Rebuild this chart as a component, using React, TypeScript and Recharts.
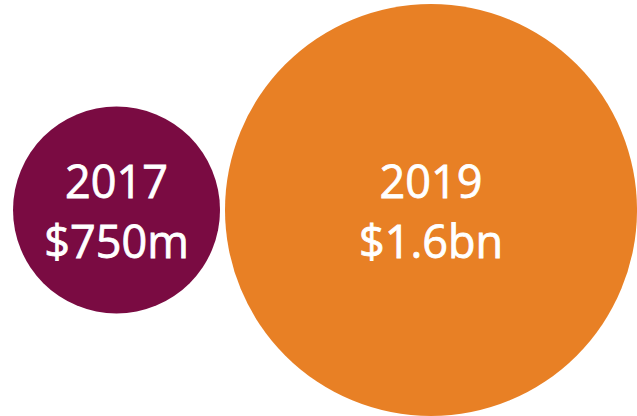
import React from "react";
import { ScatterChart, Scatter, XAxis, YAxis, ZAxis, Cell } from "recharts";

const years = [2017, 2019];
const amounts = [750, 1600]; // $m
const amountLabels = ["$750m", "$1.6bn"];
const colors = ["#7A0B42", "#E88025"];

const data = years.map((year, i) => ({
  year,
  level: 1,
  amount: amounts[i],
  label: amountLabels[i],
}));

const Bubble = (props) => {
  const { cx, cy, width, fill, payload } = props;
  const r = width / 2;
  const textStyle = {
    textAnchor: "middle" as const,
    fill: "#ffffff",
    stroke: "#ffffff",
    strokeWidth: 0.8,
    fontSize: 45,
    fontFamily: "'Open Sans', sans-serif",
  };
  return (
    <g>
      <circle cx={cx} cy={cy} r={r} fill={fill} />
      <text x={cx} y={cy - 12} {...textStyle}>
        {payload.year}
      </text>
      <text x={cx} y={cy + 48} {...textStyle}>
        {payload.label}
      </text>
    </g>
  );
};

export default function App() {
  return (
    <div style={{ position: "absolute", left: 0, top: 0, background: "#fff" }}>
      <ScatterChart
        width={637}
        height={416}
        margin={{ top: 0, right: 0, bottom: 0, left: 0 }}
      >
        <XAxis
          type="number"
          dataKey="year"
          domain={[2016.259, 2020.31]}
          allowDataOverflow
          hide
        />
        <YAxis
          type="number"
          dataKey="level"
          domain={[0, 2.0194]}
          allowDataOverflow
          hide
        />
        <ZAxis
          type="number"
          dataKey="amount"
          domain={[750, 1600]}
          range={[33654, 133317]}
        />
        <Scatter data={data} shape={<Bubble />} isAnimationActive={false}>
          {data.map((d, i) => (
            <Cell key={d.year} fill={colors[i]} />
          ))}
        </Scatter>
      </ScatterChart>
    </div>
  );
}
